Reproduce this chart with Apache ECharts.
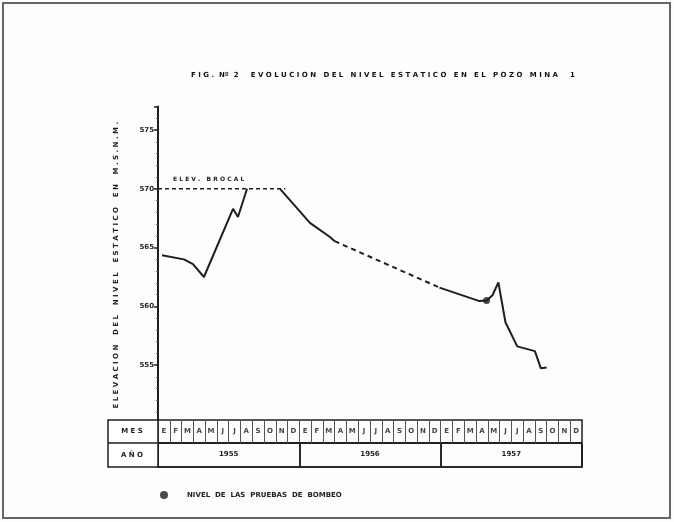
<!DOCTYPE html>
<html>
<head>
<meta charset="utf-8">
<script src="https://cdn.jsdelivr.net/npm/echarts@6/dist/echarts.min.js"></script>
<style>
  html, body { margin: 0; padding: 0; background: #fff; }
  #chart { width: 674px; height: 522px; }
</style>
</head>
<body>
<div id="chart"></div>
<script>
// eje x en meses desde enero 1955 (0 = inicio de enero)
const years = ['1955', '1956', '1957']
const monthNames = ['E', 'F', 'M', 'A', 'M', 'J', 'J', 'A', 'S', 'O', 'N', 'D']
const months = years.flatMap(() => monthNames)
const yTicks = [555, 560, 565, 570, 575]

// tramos de la curva del nivel estatico (m.s.n.m.)
const tramo1 = [[0.34, 564.35], [2.2, 564.0], [2.97, 563.6], [3.9, 562.5], [6.37, 568.3], [6.79, 567.6], [7.56, 570.0]]
const tramo2 = [[10.36, 570.0], [12.9, 567.1], [14.6, 565.9], [15.0, 565.55]]
const tramo3 = [[15.0, 565.55], [23.9, 561.6]] // tramo estimado (discontinuo)
const tramo4 = [[23.9, 561.6], [27.3, 560.45], [27.9, 560.5], [28.4, 560.95], [28.9, 562.05], [29.5, 558.65], [30.5, 556.6], [32.0, 556.2], [32.5, 554.75], [33.0, 554.8]]
const brocal = [[0, 570], [10.8, 570]]
const pruebas = [[27.9, 560.5]]

const ink = '#1e1e1e'
const font = 'DejaVu Sans'

const chart = echarts.init(document.getElementById('chart'))

function lineSerie(data, dashed) {
  return {
    type: 'line',
    data,
    symbol: 'none',
    lineStyle: { color: ink, width: 2, type: dashed ? [5, 4] : 'solid' },
    z: 3,
  }
}

chart.setOption({
  backgroundColor: '#fdfdfd',
  animation: false,
  title: {
    text: 'F I G .  Nº  2     E V O L U C I O N   D E L   N I V E L   E S T A T I C O   E N   E L   P O Z O   M I N A     1',
    left: 378,
    top: 67,
    textAlign: 'center',
    textStyle: { fontFamily: font, fontSize: 7, fontWeight: 'bold', color: '#111' },
  },
  legend: {
    data: ['NIVEL  DE  LAS  PRUEBAS  DE  BOMBEO'],
    left: 155,
    top: 486,
    itemWidth: 8,
    itemHeight: 8,
    textStyle: { fontFamily: font, fontSize: 7, fontWeight: 'bold', color: ink, padding: [0, 0, 0, 14] },
  },
  grid: [
    { left: 158, right: 92, top: 106.5, height: 317.5 },
    { left: 158, right: 92, top: 420, height: 23, show: true, borderColor: ink, borderWidth: 1.5 },
    { left: 158, right: 92, top: 443, height: 24, show: true, borderColor: ink, borderWidth: 1.5 },
  ],
  xAxis: [
    { gridIndex: 0, type: 'value', min: 0, max: 36, show: false },
    {
      gridIndex: 1, type: 'category', data: months,
      axisLine: { lineStyle: { color: ink, width: 1.5 } },
      axisTick: { show: true, inside: true, length: 23, interval: 0, alignWithLabel: false, lineStyle: { color: '#555', width: 1 } },
      splitLine: { show: true, interval: 0, lineStyle: { color: '#555', width: 1 } },
      axisLabel: { inside: true, interval: 0, margin: 8, fontFamily: font, fontSize: 7, fontWeight: 'bold', color: '#444' },
    },
    {
      gridIndex: 2, type: 'category', data: years,
      axisLine: { lineStyle: { color: ink, width: 1.5 } },
      axisTick: { show: true, inside: true, length: 24, interval: 0, lineStyle: { color: ink, width: 1.5 } },
      splitLine: { show: true, interval: 0, lineStyle: { color: ink, width: 1.5 } },
      axisLabel: { inside: true, margin: 9, fontFamily: font, fontSize: 7, fontWeight: 'bold', color: ink },
    },
  ],
  yAxis: [
    {
      gridIndex: 0, type: 'value', min: 550, max: 577, interval: 5,
      name: 'E L E V A C I O N    D E L    N I V E L    E S T A T I C O    E N    M . S . N . M .',
      nameLocation: 'middle',
      nameGap: 38,
      nameTextStyle: { fontFamily: font, fontSize: 7, fontWeight: 'bold', color: ink },
      axisLine: { show: true, lineStyle: { color: ink, width: 2 } },
      axisTick: { show: true, length: 4, lineStyle: { color: ink, width: 1.5 } },
      minorTick: { show: true, splitNumber: 5, length: 2, lineStyle: { color: '#666' } },
      splitLine: { show: false },
      axisLabel: {
        showMinLabel: false, margin: 4,
        fontFamily: font, fontSize: 7, fontWeight: 'bold', color: ink,
        formatter: v => (yTicks.includes(v) ? String(v) : ''),
      },
    },
    { gridIndex: 1, type: 'value', show: false },
    { gridIndex: 2, type: 'value', show: false },
  ],
  graphic: [
    { type: 'rect', shape: { x: 108, y: 420, width: 50, height: 47 }, style: { fill: '#fff', stroke: ink, lineWidth: 1.5 }, z: 100 },
    { type: 'line', shape: { x1: 108, y1: 443, x2: 158, y2: 443 }, style: { stroke: ink, lineWidth: 1.5 }, z: 101 },
    { type: 'text', x: 132, y: 431.5, style: { text: 'M E S', fontFamily: font, fontSize: 7, fontWeight: 'bold', fill: ink, align: 'center', verticalAlign: 'middle' }, z: 101 },
    { type: 'text', x: 132, y: 455, style: { text: 'A Ñ O', fontFamily: font, fontSize: 7, fontWeight: 'bold', fill: ink, align: 'center', verticalAlign: 'middle' }, z: 101 },
    { type: 'rect', shape: { x: 3, y: 3, width: 667, height: 515 }, style: { fill: 'none', stroke: '#666', lineWidth: 2 }, z: 100 },
  ],
  series: [
    {
      name: 'brocal',
      type: 'line',
      data: brocal,
      symbol: 'none',
      lineStyle: { color: ink, width: 1.5, type: [4, 3] },
      markPoint: {
        symbol: 'circle',
        symbolSize: 0,
        data: [{ coord: [4.3, 570] }],
        label: { show: true, formatter: 'E L E V .   B R O C A L', offset: [0, -9], fontFamily: font, fontSize: 6, fontWeight: 'bold', color: ink },
      },
    },
    lineSerie(tramo1, false),
    lineSerie(tramo2, false),
    lineSerie(tramo3, true),
    lineSerie(tramo4, false),
    {
      name: 'NIVEL  DE  LAS  PRUEBAS  DE  BOMBEO',
      type: 'scatter',
      data: pruebas,
      symbol: 'circle',
      symbolSize: 7,
      itemStyle: { color: ink },
      z: 4,
    },
  ],
})
</script>
</body>
</html>
